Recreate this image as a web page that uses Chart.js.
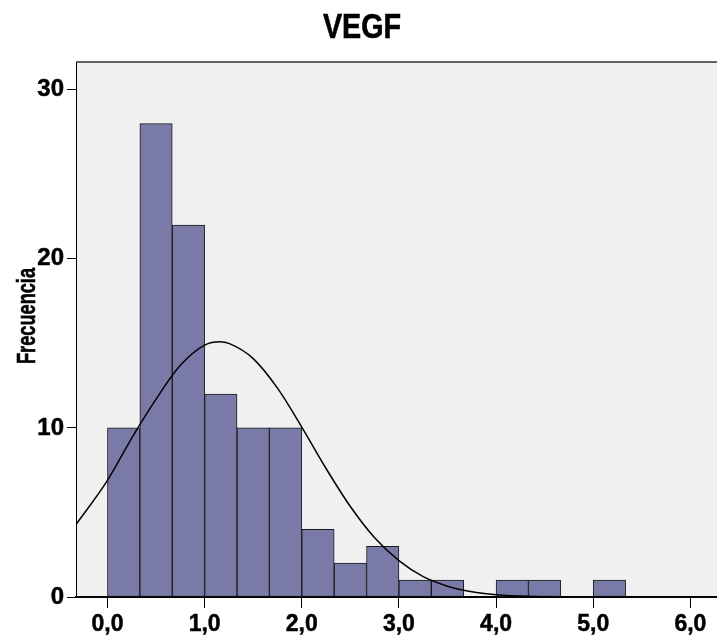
<!DOCTYPE html>
<html>
<head>
<meta charset="utf-8">
<title>VEGF</title>
<script src="https://cdn.jsdelivr.net/npm/chart.js@4/dist/chart.umd.min.js"></script>
<style>
  html, body { margin: 0; padding: 0; background: #ffffff; }
  #wrap { width: 717px; height: 644px; position: relative; }
</style>
</head>
<body>
<div id="wrap"><canvas id="histo"></canvas></div>
<script>
// histogram bins (left edge of each bin, width 1/3) and counts
const binWidth = 1 / 3;
const binStarts = [0, 1/3, 2/3, 1, 4/3, 5/3, 2, 7/3, 8/3, 3, 10/3, 11/3, 4, 13/3, 14/3, 5];
const counts    = [10, 28, 22, 12, 10, 10, 4, 2, 3, 1, 1, 0, 1, 1, 0, 1];

// normal curve, read at these x positions
const curveX = [-0.33, 0, 0.25, 0.5, 0.75, 1.0, 1.16, 1.25, 1.5, 1.75, 2.0, 2.25, 2.5, 2.75,
                3.0, 3.25, 3.5, 3.75, 4.0, 4.25, 4.5, 5.0, 5.5, 6.0, 6.3];
const curveY = [4.24, 6.9, 9.4, 11.7, 13.7, 14.9, 15.1, 15.0, 14.1, 12.35, 10.05, 7.6, 5.35, 3.5,
                2.15, 1.2, 0.64, 0.31, 0.14, 0.06, 0.02, 0, 0, 0, 0];

// axis ticks
const xTicks = [0, 1, 2, 3, 4, 5, 6];
const yTicks = [0, 10, 20, 30];

const sans = "'Liberation Sans', Arial, Helvetica, sans-serif";

const barData = binStarts.map((s, i) => ({ x: s + binWidth / 2, y: counts[i] }));
const curveData = curveX.map((x, i) => ({ x: x, y: curveY[i] }));

// condensed bold text: squeeze along the text direction
function narrowText(ctx, text, x, y, size, squeeze, angle) {
  ctx.save();
  ctx.translate(x, y);
  ctx.rotate(angle);
  ctx.scale(squeeze, 1);
  ctx.font = 'bold ' + size + 'px ' + sans;
  ctx.fillStyle = '#000';
  ctx.strokeStyle = '#000';
  ctx.lineWidth = 0.6;
  ctx.textAlign = 'center';
  ctx.textBaseline = 'alphabetic';
  ctx.strokeText(text, 0, 0);
  ctx.fillText(text, 0, 0);
  ctx.restore();
}

// grey plot background, top frame line, title and y title
const frame = {
  id: 'frame',
  beforeDraw(chart) {
    const { ctx, chartArea: a } = chart;
    ctx.save();
    ctx.fillStyle = '#f0f0f0';
    ctx.fillRect(a.left, a.top, a.right - a.left, a.bottom - a.top);
    ctx.restore();
  },
  afterDraw(chart) {
    const { ctx, chartArea: a } = chart;
    ctx.save();
    ctx.strokeStyle = '#333333';
    ctx.lineWidth = 1.5;
    ctx.beginPath();
    ctx.moveTo(a.left, a.top);
    ctx.lineTo(a.right, a.top);
    ctx.stroke();
    ctx.restore();

    narrowText(ctx, 'VEGF', 362, 38, 35, 0.82, 0);
    narrowText(ctx, 'Frecuencia', 35, 316, 26, 0.7, -Math.PI / 2);
  }
};

new Chart(document.getElementById('histo'), {
  data: {
    datasets: [
      {
        type: 'line',
        data: curveData,
        borderColor: '#000000',
        borderWidth: 1.5,
        pointRadius: 0,
        cubicInterpolationMode: 'monotone',
        order: 0
      },
      {
        type: 'bar',
        data: barData,
        backgroundColor: '#7a7aa8',
        borderColor: '#1a1a1a',
        borderWidth: 1,
        borderSkipped: false,
        barPercentage: 1,
        categoryPercentage: 1,
        order: 1
      }
    ]
  },
  options: {
    responsive: true,
    maintainAspectRatio: false,
    animation: false,
    layout: { padding: { top: 62 } },
    plugins: {
      legend: { display: false },
      tooltip: { enabled: false },
      title: { display: false }
    },
    scales: {
      x: {
        type: 'linear',
        offset: false,
        min: -0.324,
        max: 6.274,
        afterFit(scale) { scale.height = 47; },
        afterBuildTicks(scale) { scale.ticks = xTicks.map(v => ({ value: v })); },
        ticks: {
          color: '#000',
          padding: 3,
          textStrokeColor: '#000',
          textStrokeWidth: 0.5,
          font: { family: sans, size: 23, weight: 'bold' },
          callback: v => v.toFixed(1).replace('.', ',')
        },
        grid: { offset: false, drawOnChartArea: false, drawTicks: true, tickLength: 11, color: '#000', lineWidth: 1 },
        border: { display: true, color: '#000', width: 2 }
      },
      y: {
        min: 0,
        max: 31.64,
        afterFit(scale) { scale.width = 76; },
        afterBuildTicks(scale) { scale.ticks = yTicks.map(v => ({ value: v })); },
        ticks: {
          color: '#000',
          padding: 3,
          textStrokeColor: '#000',
          textStrokeWidth: 0.5,
          font: { family: sans, size: 24, weight: 'bold' }
        },
        grid: { drawOnChartArea: false, drawTicks: true, tickLength: 9, color: '#000', lineWidth: 1 },
        border: { display: true, color: '#000', width: 1 }
      }
    }
  },
  plugins: [frame]
});
</script>
</body>
</html>
